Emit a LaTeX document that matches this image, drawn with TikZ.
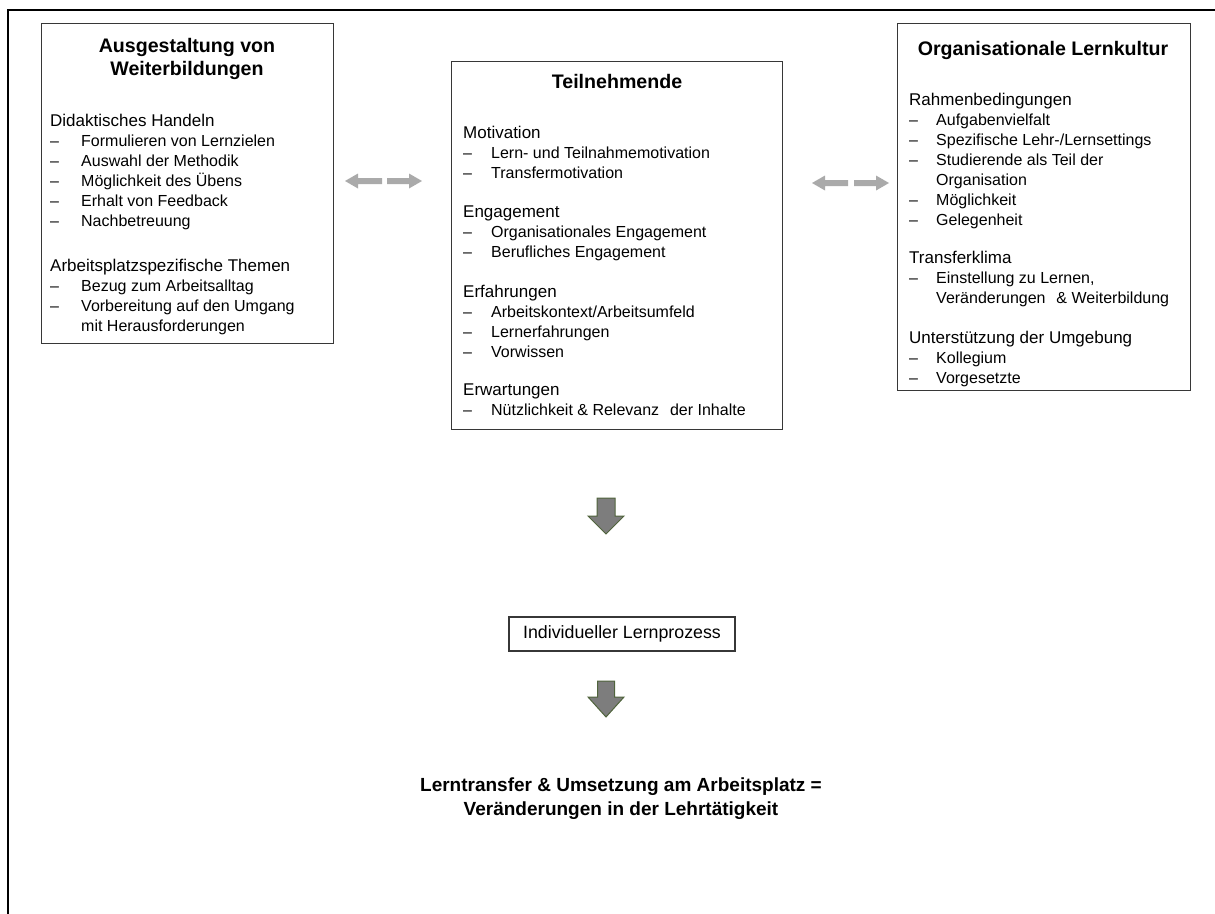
\documentclass[tikz,border=0pt]{standalone}
\usepackage{fontspec}
\setmainfont{Liberation Sans}
\usetikzlibrary{calc}
\definecolor{boxline}{RGB}{55,55,55}
\definecolor{lightarrow}{RGB}{170,170,170}
\definecolor{darkarrow}{RGB}{125,125,125}
\definecolor{arrowedge}{RGB}{80,100,60}
\newcommand{\itemfont}{\fontsize{16}{20}\selectfont}
\newcommand{\headfont}{\fontsize{17}{20}\selectfont}
\newcommand{\hd}[1]{\multicolumn{2}{@{}l@{}}{\headfont #1}}
\begin{document}
\begin{tikzpicture}[x=1pt,y=-1pt,
  box/.style={draw=boxline, line width=1.3pt, anchor=north west, inner sep=0pt},
  sect/.style={anchor=base west, inner sep=0pt, font=\itemfont},
  ttl/.style={anchor=base, inner sep=0pt, font=\fontsize{19.6}{23}\selectfont\bfseries},
  harrow/.style={fill=lightarrow, draw=none},
  varrow/.style={fill=darkarrow, draw=arrowedge, line width=1pt, line join=miter}]
\useasboundingbox (0,0) rectangle (1215,913);
% outer frame
\draw[line width=2pt] (8,920) -- (8,10) -- (1220,10);
% boxes
\node[box, minimum width=292pt, minimum height=320pt] (L) at (41,23) {};
\node[box, minimum width=331pt, minimum height=368pt] (C) at (451,61) {};
\node[box, minimum width=293pt, minimum height=367pt] (R) at (897,23) {};
% titles
\node[ttl] (Lt) at (187,52) {\begin{tabular}[t]{@{}c@{}}Ausgestaltung von\\Weiterbildungen\end{tabular}};
\node[ttl] (Ct) at (617,88) {Teilnehmende};
\node[ttl] (Rt) at (1043,55) {Organisationale Lernkultur};
% left box sections
\node[sect] (L1) at (50,126) {\begin{tabular}[t]{@{}p{31pt}@{}l@{}}
\hd{Didaktisches Handeln}\\
–& Formulieren von Lernzielen\\
–& Auswahl der Methodik\\
–& Möglichkeit des Übens\\
–& Erhalt von Feedback\\
–& Nachbetreuung
\end{tabular}};
\node[sect] (L2) at (50,271) {\begin{tabular}[t]{@{}p{31pt}@{}l@{}}
\hd{Arbeitsplatzspezifische Themen}\\
–& Bezug zum Arbeitsalltag\\
–& Vorbereitung auf den Umgang\\
 & mit Herausforderungen
\end{tabular}};
% center box sections
\node[sect] (C1) at (463,138) {\begin{tabular}[t]{@{}p{28pt}@{}l@{}}
\hd{Motivation}\\
–& Lern- und Teilnahmemotivation\\
–& Transfermotivation
\end{tabular}};
\node[sect] (C2) at (463,217) {\begin{tabular}[t]{@{}p{28pt}@{}l@{}}
\hd{Engagement}\\
–& Organisationales Engagement\\
–& Berufliches Engagement
\end{tabular}};
\node[sect] (C3) at (463,297) {\begin{tabular}[t]{@{}p{28pt}@{}l@{}}
\hd{Erfahrungen}\\
–& Arbeitskontext/Arbeitsumfeld\\
–& Lernerfahrungen\\
–& Vorwissen
\end{tabular}};
\node[sect] (C4) at (463,395) {\begin{tabular}[t]{@{}p{28pt}@{}l@{}}
\hd{Erwartungen}\\
–& Nützlichkeit \& Relevanz\hspace{0.4em} der Inhalte
\end{tabular}};
% right box sections
\node[sect] (R1) at (909,105) {\begin{tabular}[t]{@{}p{27pt}@{}l@{}}
\hd{Rahmenbedingungen}\\
–& Aufgabenvielfalt\\
–& Spezifische Lehr-/Lernsettings\\
–& Studierende als Teil der\\
 & Organisation\\
–& Möglichkeit\\
–& Gelegenheit
\end{tabular}};
\node[sect] (R2) at (909,263) {\begin{tabular}[t]{@{}p{27pt}@{}l@{}}
\hd{Transferklima}\\
–& Einstellung zu Lernen,\\
 & Veränderungen\hspace{0.4em} \& Weiterbildung
\end{tabular}};
\node[sect] (R3) at (909,343) {\begin{tabular}[t]{@{}p{27pt}@{}l@{}}
\hd{Unterstützung der Umgebung}\\
–& Kollegium\\
–& Vorgesetzte
\end{tabular}};
% process box and result
\node[draw=boxline, line width=1.3pt, minimum width=226pt, minimum height=34pt, inner sep=0pt,
      font=\fontsize{17.8}{20}\selectfont] (P) at (622,634) {Individueller Lernprozess};
\node[ttl, font=\fontsize{19}{24.5}\selectfont\bfseries] (T) at (621,791)
  {\begin{tabular}[t]{@{}c@{}}Lerntransfer \& Umsetzung am Arbeitsplatz =\\Veränderungen in der Lehrtätigkeit\end{tabular}};
% light double arrows (left pair)
\fill[harrow] (345,181) -- (358,173.5) -- (358,178) -- (382,178) -- (382,184) -- (358,184) -- (358,188.5) -- cycle;
\fill[harrow] (422,181) -- (409,173.5) -- (409,178) -- (387,178) -- (387,184) -- (409,184) -- (409,188.5) -- cycle;
% light double arrows (right pair)
\fill[harrow] (812,183) -- (825,175.5) -- (825,180) -- (848,180) -- (848,186) -- (825,186) -- (825,190.5) -- cycle;
\fill[harrow] (889,183) -- (876,175.5) -- (876,180) -- (854,180) -- (854,186) -- (876,186) -- (876,190.5) -- cycle;
% dark down arrows
\draw[varrow] (597,498) -- (615,498) -- (615,516) -- (624,516) -- (606,534) -- (588,516) -- (597,516) -- cycle;
\draw[varrow] (597.5,681) -- (614.5,681) -- (614.5,697) -- (624,697) -- (606,717) -- (588,697) -- (597.5,697) -- cycle;
\end{tikzpicture}
\end{document}
